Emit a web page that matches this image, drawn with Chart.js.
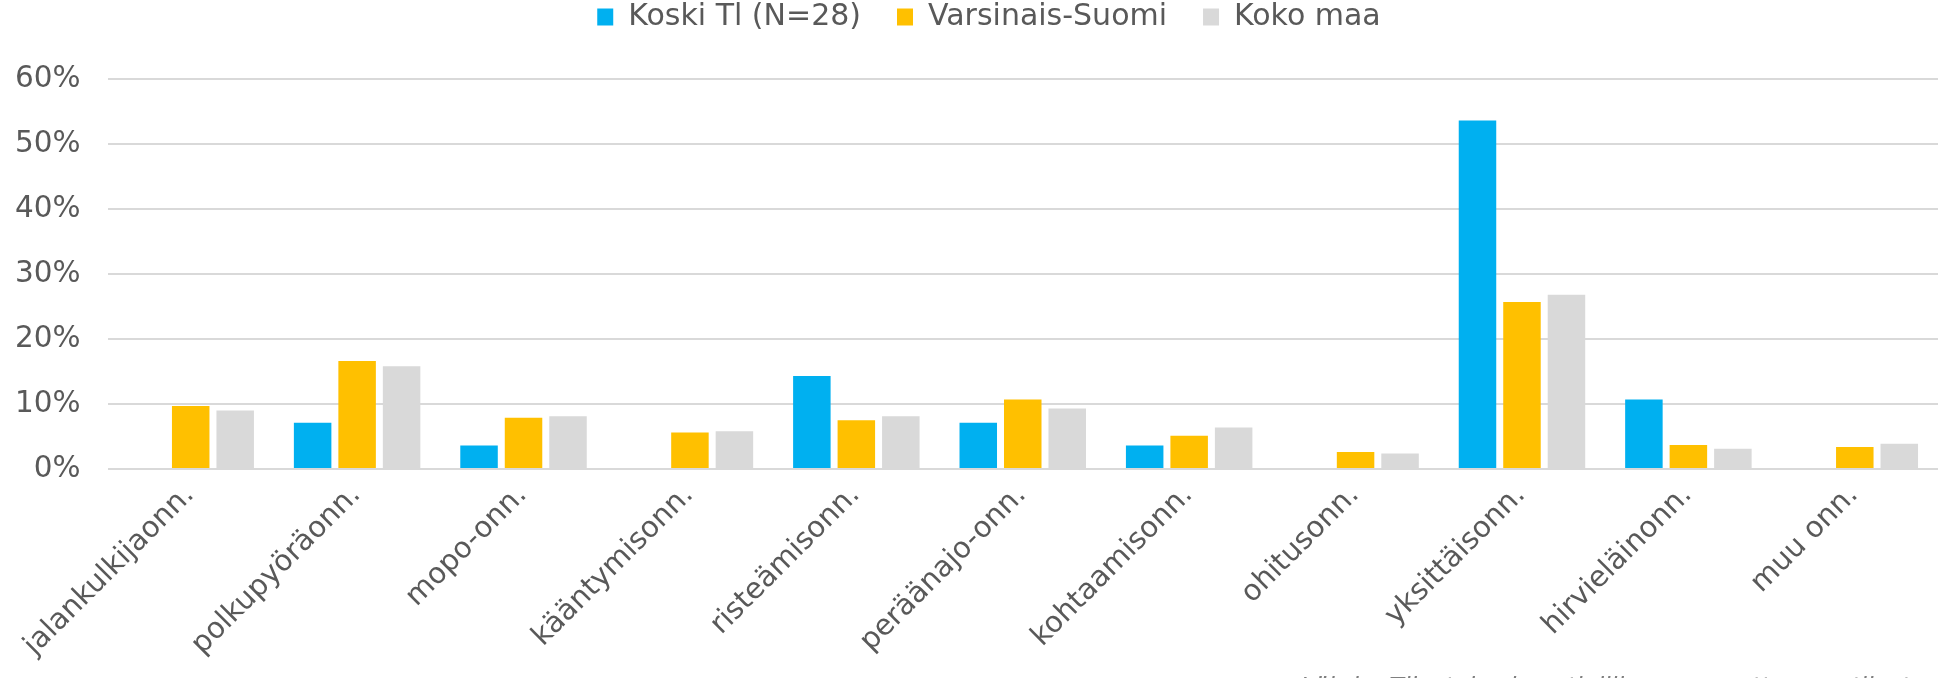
<!DOCTYPE html>
<html>
<head>
<meta charset="utf-8">
<script src="https://cdn.jsdelivr.net/npm/chart.js@4/dist/chart.umd.min.js"></script>
<style>
  html, body { margin: 0; padding: 0; background: #ffffff; overflow: hidden; }
  #wrap { width: 1941px; height: 678px; overflow: hidden; }
  canvas { display: block; }
</style>
</head>
<body>
<div id="wrap"><canvas id="c" width="1941" height="720"></canvas></div>
<script>
const categories = ['jalankulkijaonn.', 'polkupyöräonn.', 'mopo-onn.', 'kääntymisonn.', 'risteämisonn.', 'peräänajo-onn.', 'kohtaamisonn.', 'ohitusonn.', 'yksittäisonn.', 'hirvieläinonn.', 'muu onn.'];
const seriesNames = ['Koski Tl (N=28)', 'Varsinais-Suomi', 'Koko maa'];
const koski = [0, 7.1, 3.6, 0, 14.3, 7.1, 3.6, 0, 53.6, 10.7, 0];
const varsinaisSuomi = [9.7, 16.6, 7.9, 5.6, 7.5, 10.7, 5.1, 2.6, 25.7, 3.7, 3.4];
const kokoMaa = [9.0, 15.8, 8.1, 5.8, 8.1, 9.3, 6.4, 2.4, 26.8, 3.1, 3.9];
const yTicks = [0, 10, 20, 30, 40, 50, 60];
const sourceNote = 'Lähde: Tilastokeskus, tieliikenneonnettomuustilasto';

const FONT = "'DejaVu Sans', Verdana, sans-serif";
const TEXT = '#595959';

const legendTweak = {
  id: 'legendTweak',
  afterInit(chart) {
    const lg = chart.legend;
    const fit = lg.fit;
    lg.fit = function () { fit.call(this); this.height = 79; };
    const draw = lg._draw;
    lg._draw = function () {
      const ctx = this.ctx;
      ctx.save();
      ctx.translate(20, -34);
      draw.call(this);
      ctx.restore();
    };
  }
};

const footer = {
  id: 'footer',
  afterDraw(chart) {
    const ctx = chart.ctx;
    ctx.save();
    ctx.font = "italic 24px " + FONT;
    ctx.fillStyle = '#7F7F7F';
    ctx.textAlign = 'right';
    ctx.textBaseline = 'alphabetic';
    ctx.fillText(sourceNote, 1925, 695);
    ctx.restore();
  }
};

new Chart(document.getElementById('c'), {
  type: 'bar',
  data: {
    labels: categories,
    datasets: [
      { label: seriesNames[0], data: koski, backgroundColor: '#00B0F0' },
      { label: seriesNames[1], data: varsinaisSuomi, backgroundColor: '#FFC000' },
      { label: seriesNames[2], data: kokoMaa, backgroundColor: '#D9D9D9' }
    ]
  },
  options: {
    responsive: false,
    animation: false,
    devicePixelRatio: 1,
    categoryPercentage: 0.802,
    barPercentage: 0.843,
    layout: { padding: { left: 0, right: 3, top: 0, bottom: 0 } },
    plugins: {
      legend: {
        position: 'top',
        labels: {
          boxWidth: 16,
          boxHeight: 17,
          padding: 36,
          color: TEXT,
          font: { family: FONT, size: 30 }
        }
      },
      tooltip: { enabled: false }
    },
    scales: {
      x: {
        grid: { display: false, drawTicks: false },
        border: { display: false },
        ticks: {
          color: TEXT,
          font: { family: FONT, size: 29 },
          maxRotation: 45,
          minRotation: 45,
          autoSkip: false,
          padding: 9,
          labelOffset: -1
        },
        afterFit(scale) { scale.height = 251; }
      },
      y: {
        min: 0,
        max: 60,
        afterBuildTicks(scale) { scale.ticks = yTicks.map(v => ({ value: v })); },
        grid: { color: '#D9D9D9', lineWidth: 2, drawTicks: false },
        border: { display: false },
        ticks: {
          color: TEXT,
          font: { family: FONT, size: 29.5 },
          padding: 27,
          callback: v => v + '%'
        },
        afterFit(scale) { scale.width = 107.5; }
      }
    }
  },
  plugins: [legendTweak, footer]
});
</script>
</body>
</html>
